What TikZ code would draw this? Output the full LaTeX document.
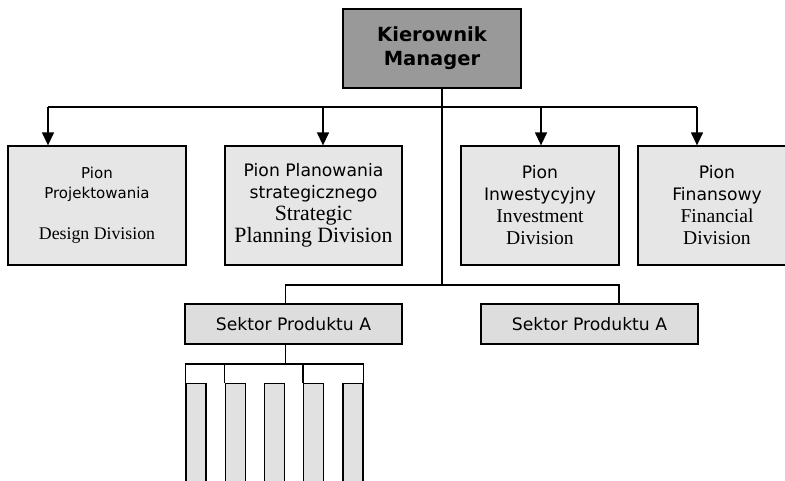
\documentclass[tikz,border=0pt]{standalone}
\usepackage{fontspec}
\setmainfont{Liberation Serif}
\setsansfont{DejaVu Sans}
\usetikzlibrary{positioning,arrows.meta}
\definecolor{mgrgray}{RGB}{153,153,153}
\definecolor{divgray}{RGB}{230,230,230}
\definecolor{secgray}{RGB}{221,221,221}
\definecolor{unitgray}{RGB}{225,225,225}

\begin{document}
\begin{tikzpicture}[x=1pt, y=-1pt, line width=1.3pt,
    box/.style={draw, rectangle, inner sep=0pt, align=center},
    mgr/.style={box, fill=mgrgray, minimum width=178pt, minimum height=79pt,
      font=\sffamily\bfseries\fontsize{19.5}{24}\selectfont},
    divbox/.style={box, fill=divgray, minimum width=#1, minimum height=119pt,
      font=\sffamily\fontsize{17.2}{22}\selectfont},
    sect/.style={box, fill=secgray, minimum width=217pt, minimum height=40pt,
      font=\sffamily\fontsize{17.2}{22}\selectfont},
    unit/.style={box, fill=unitgray, anchor=north, minimum width=20pt, minimum height=130pt},
    arr/.style={-{Triangle[width=12pt,length=13pt]}}]
  \useasboundingbox (0,0) rectangle (785,480);
  \clip (0,0) rectangle (785,480);
  \node[mgr] (M) at (432,48.5) {Kierownik\\Manager};
  \node[divbox=178pt, font=\sffamily\fontsize{15}{20}\selectfont] (D1) at (97,205.5)
    {Pion\\Projektowania\\[21pt]{\rmfamily\fontsize{17.8}{20}\selectfont Design Division}};
  \node[divbox=177pt, on grid, right=216.5pt of D1] (D2)
    {Pion Planowania\\strategicznego\\{\rmfamily\fontsize{21.8}{22}\selectfont Strategic}\\{\rmfamily\fontsize{21.8}{22}\selectfont Planning Division}};
  \node[divbox=158pt, on grid, right=226.5pt of D2] (D3)
    {Pion\\Inwestycyjny\\{\rmfamily\fontsize{19.6}{22}\selectfont Investment}\\{\rmfamily\fontsize{19.6}{22}\selectfont Division}};
  \node[divbox=158pt, on grid, right=177pt of D3] (D4)
    {Pion\\Finansowy\\{\rmfamily\fontsize{19.6}{22}\selectfont Financial}\\{\rmfamily\fontsize{19.6}{22}\selectfont Division}};
  \node[sect] (S1) at (293.5,324) {Sektor Produktu A};
  \node[sect, on grid, right=296pt of S1] (S2) {Sektor Produktu A};
  \foreach \i in {1,...,5}
    \node[unit] (U\i) at ({196+39.25*(\i-1)},383) {};
  % bus under the manager
  \coordinate (J) at (442,107);
  \coordinate (T1) at (48,107);
  \coordinate (T2) at (323,107);
  \coordinate (T3) at (541,107);
  \coordinate (T4) at (697,107);
  \coordinate (K) at (619,285);
  \draw (M.south -| J) -- (J);
  \draw (T1) -- (T4);
  \foreach \t/\d in {T1/D1, T2/D2, T3/D3, T4/D4}
    \draw[arr] (\t) -- (\t |- \d.north);
  \draw (J) -- (J |- K);
  \draw (S1.north -| U3.north east) |- (K) -- (S2.north -| K);
  % units under the first sector
  \draw (U1.north west) -- ++(0,-19) coordinate (L) -| (U5.north east);
  \draw (S1.south -| U3.north east) -- (L -| U3.north east);
  \foreach \u in {U2.north west, U4.north west}
    \draw (\u) -- (L -| \u);
\end{tikzpicture}
\end{document}
